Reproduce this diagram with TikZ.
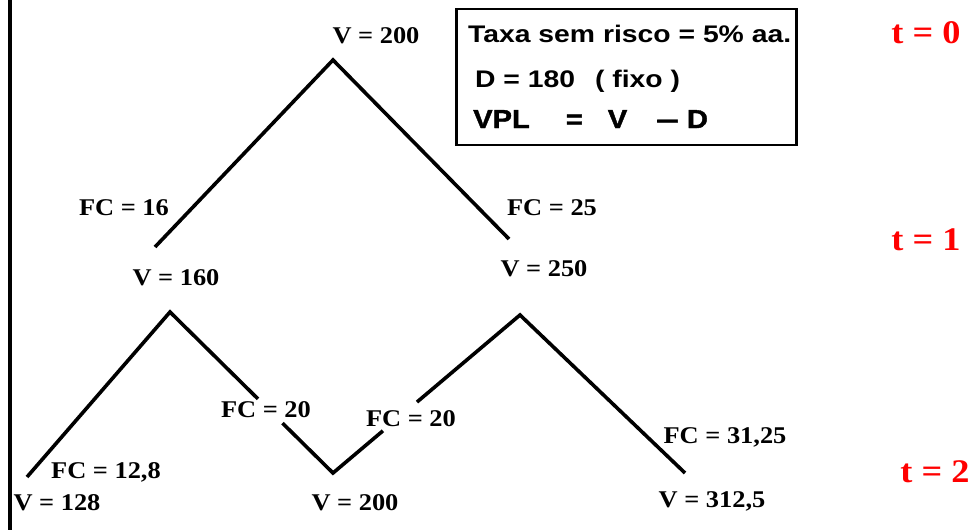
\documentclass[tikz,border=0pt]{standalone}
\usepackage{fontspec}
\usetikzlibrary{calc}
\newfontfamily\lblfont[FakeStretch=1.1]{Liberation Serif}
\newfontfamily\boxfont[FakeStretch=1.18]{Liberation Sans}
\newfontfamily\boxheavy[FakeStretch=1.12,FakeBold=1.5]{Liberation Sans}
\begin{document}
\begin{tikzpicture}[x=1pt,y=-1pt,
  branch/.style={line width=3.6pt,line join=miter},
  lbl/.style={anchor=base,inner sep=0pt,font=\lblfont\bfseries\fontsize{24}{28}\selectfont},
  tlbl/.style={anchor=base,inner sep=0pt,text=red,font=\lblfont\bfseries\fontsize{33}{38}\selectfont},
  boxtxt/.style={anchor=base west,inner sep=0pt,font=\boxfont\bfseries\fontsize{24}{28}\selectfont},
  infobox/.style={draw,line width=2.5pt,minimum width=340pt,minimum height=136pt,inner sep=0pt}
]
\useasboundingbox (0,0) rectangle (975,530);
% left border
\coordinate (bt) at (10,0);
\coordinate (bb) at (10,530);
\draw[line width=3.4pt] (bt) -- (bb);
% tree points
\coordinate (A0) at (333,60);
\coordinate (A1) at (155,247);
\coordinate (A2) at (509,239);
\coordinate (B0) at (170,312);
\coordinate (B1) at (27,477);
\coordinate (B2) at (333,473);
\coordinate (C0) at (520,315);
\coordinate (C1) at (685,473);
\draw[branch] (A1) -- (A0) -- (A2);
\draw[branch] (B1) -- (B0) -- ($(B0)!0.54!(B2)$);
\draw[branch] ($(B0)!0.69!(B2)$) -- (B2) -- ($(B2)!0.267!(C0)$);
\draw[branch] ($(B2)!0.449!(C0)$) -- (C0) -- (C1);
% value labels
\node[lbl] (v0) at (376,43) {V = 200};
\node[lbl] (fc16) at (124,215) {FC = 16};
\node[lbl] (v160) at (176,285) {V = 160};
\node[lbl] (fc25) at (552,215) {FC = 25};
\node[lbl] (v250) at (544,276) {V = 250};
\node[lbl] (fc20a) at (266,417) {FC = 20};
\node[lbl] (fc20b) at (411,426) {FC = 20};
\node[lbl] (fc128) at (106,478) {FC = 12,8};
\node[lbl] (v128) at (57,510) {V = 128};
\node[lbl] (v200) at (355,510) {V = 200};
\node[lbl] (fc3125) at (725,443) {FC = 31,25};
\node[lbl] (v3125) at (712,507) {V = 312,5};
% time labels
\node[tlbl] (t0) at (926,43) {t = 0};
\node[tlbl] (t1) at (926,250) {t = 1};
\node[tlbl] (t2) at (935,482) {t = 2};
% info box
\node[infobox] (box) at (626.5,77) {};
\node[boxtxt] (l1) at (468,42) {Taxa sem risco = 5\% aa.};
\node[boxtxt] (l2) at (475,87) {D = 180\hspace{20pt}( fixo )};
\node[boxtxt,font=\boxheavy\bfseries\fontsize{26}{30}\selectfont] (l3) at (473,128) {VPL\hspace{36pt}=\hspace{25pt}V\hspace{29pt}\scalebox{1.4}[1]{–}\hspace{8pt}D};
\end{tikzpicture}
\end{document}
